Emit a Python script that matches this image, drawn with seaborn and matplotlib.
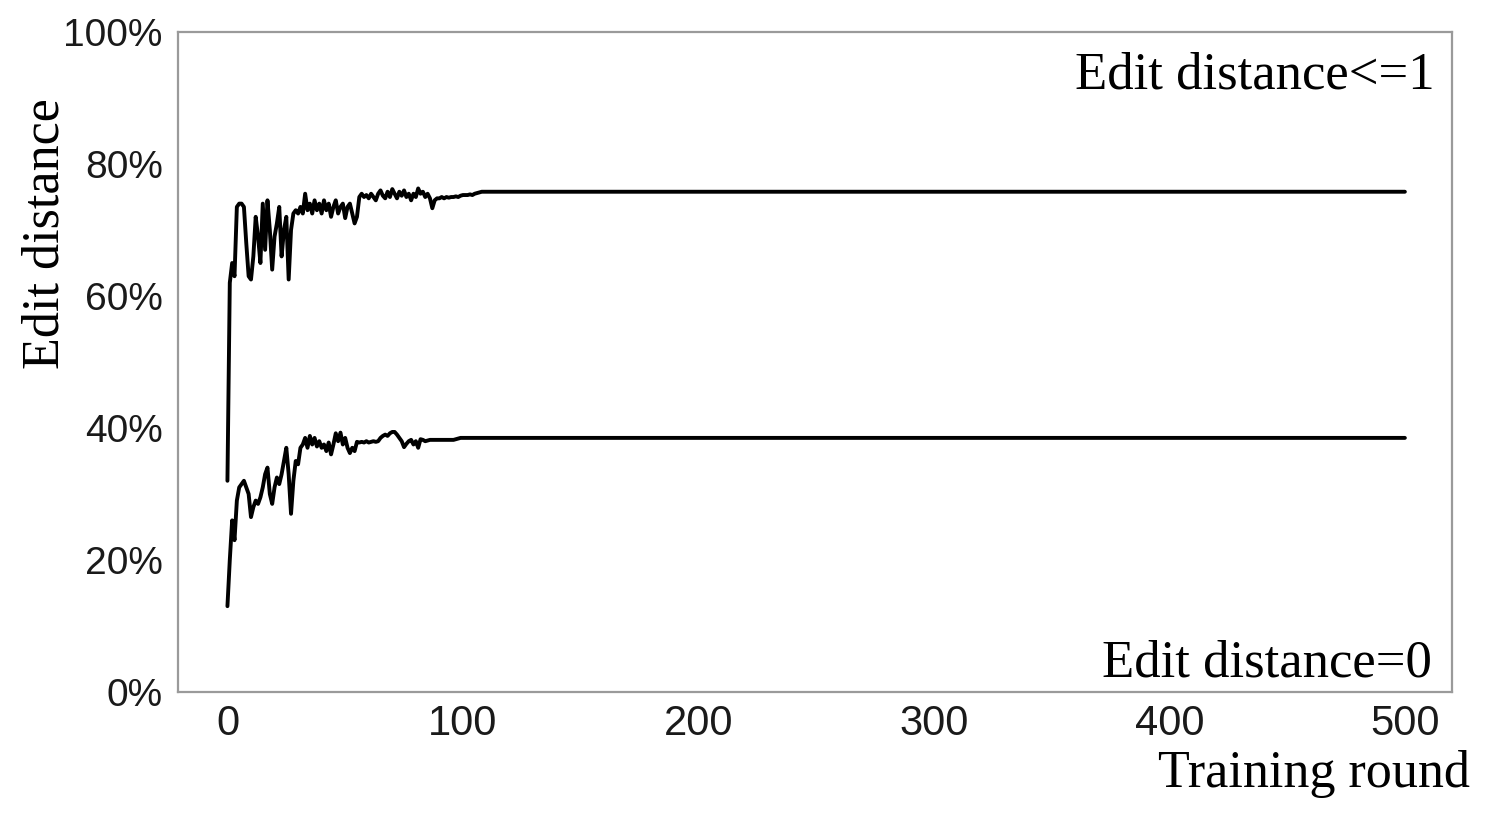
import matplotlib

matplotlib.use("Agg")
import matplotlib.pyplot as plt
import pandas as pd
import seaborn as sns
from matplotlib.ticker import PercentFormatter

# 训练轮次（前期波动段逐轮读取，后期平稳段只取端点）
rounds = list(range(0, 111)) + [500]

# Edit distance<=1 曲线（百分比）
upper_vals = [
    32, 62, 65, 63, 73.5, 74, 74, 73.5, 68, 63,
    62.5, 66, 72, 69, 65, 74, 67, 74.5, 70, 64,
    69, 71, 73.5, 66, 70, 72, 62.5, 70, 72.5, 73,
    72.5, 73.5, 72.5, 75.5, 73, 74, 72.5, 74.5, 73, 74,
    72.5, 74.5, 73, 74, 72, 73.5, 74.5, 72.5, 73.5, 74,
    71.8, 73.5, 74, 72.5, 71, 72, 75, 75.5, 75, 75.3,
    74.8, 75.5, 75, 74.5, 75.5, 76, 75.2, 74.8, 75.8, 75,
    76.2, 75.5, 74.8, 75.8, 75.2, 76, 75, 75.5, 74.5, 75.5,
    75, 76.3, 75.5, 75.8, 75, 75.5, 74.8, 73.3, 74.5, 74.8,
    74.8, 75, 74.8, 75, 74.9, 75, 75, 75.1, 75, 75.2,
    75.3, 75.3, 75.3, 75.4, 75.3, 75.5, 75.6, 75.7, 75.8, 75.8,
    75.8, 75.8,
]

# Edit distance=0 曲线（百分比）
lower_vals = [
    13, 20, 26, 23, 29, 31, 31.5, 32, 31, 30,
    26.5, 28, 29, 28.5, 29.5, 31, 33, 34, 30, 28.5,
    31, 32.5, 31.5, 33, 35, 37, 33, 27, 32, 35,
    34.5, 37, 37.5, 38.5, 37, 38.8, 37.5, 38.5, 37.2, 38,
    37, 37.5, 36.5, 37.8, 36, 37.5, 39.2, 38, 39.3, 37.5,
    38.5, 37, 36.2, 37, 36.5, 37.9, 37.8, 37.9, 37.8, 38,
    37.8, 37.9, 38, 37.9, 38, 38.5, 38.8, 39, 38.8, 39.2,
    39.4, 39.4, 39, 38.5, 38, 37.1, 37.6, 38, 38.2, 37.5,
    38, 37, 38.3, 38.2, 38, 38.1, 38.2, 38.2, 38.2, 38.2,
    38.2, 38.2, 38.2, 38.2, 38.2, 38.2, 38.2, 38.3, 38.4, 38.5,
    38.5, 38.5, 38.5, 38.5, 38.5, 38.5, 38.5, 38.5, 38.5, 38.5,
    38.5, 38.5,
]

x_ticks = [0, 100, 200, 300, 400, 500]
y_ticks = [0, 20, 40, 60, 80, 100]

df = pd.DataFrame(
    {
        "round": rounds * 2,
        "value": upper_vals + lower_vals,
        "series": ["Edit distance<=1"] * len(rounds) + ["Edit distance=0"] * len(rounds),
    }
)

sns.set_theme(style="white")
plt.rcParams["font.family"] = ["Liberation Sans Narrow", "Liberation Sans", "DejaVu Sans"]
plt.rcParams["font.stretch"] = "condensed"

fig = plt.figure(figsize=(15.02, 8.30), dpi=100)
ax = fig.add_axes([0.1185, 0.1663, 0.8482, 0.7951])

sns.lineplot(
    data=df,
    x="round",
    y="value",
    units="series",
    estimator=None,
    color="black",
    linewidth=2.8,
    ax=ax,
)

ax.set_xlim(-21, 520)
ax.set_ylim(0, 100)
ax.set_xticks(x_ticks)
ax.set_yticks(y_ticks)
ax.yaxis.set_major_formatter(PercentFormatter(decimals=0))

for side in ["left", "right", "top", "bottom"]:
    ax.spines[side].set_color("#9a9a9a")
    ax.spines[side].set_linewidth(1.6)

ax.tick_params(axis="both", length=4, width=1, color="#9a9a9a", labelcolor="#1a1a1a")
ax.tick_params(axis="x", labelsize=30, pad=5)
ax.tick_params(axis="y", labelsize=28, pad=7)

serif = ["Liberation Serif", "DejaVu Serif"]
ax.set_xlabel("Training round", fontsize=37.5, family=serif, color="black")
ax.xaxis.set_label_coords(0.892, -0.088)
ax.set_ylabel("Edit distance", fontsize=37.5, family=serif, color="black")
ax.yaxis.set_label_coords(-0.085, 0.695)

ax.text(0.9867, 0.915, "Edit distance<=1", transform=ax.transAxes,
        ha="right", va="baseline", fontsize=38, family=serif, color="black")
ax.text(0.9843, 0.0227, "Edit distance=0", transform=ax.transAxes,
        ha="right", va="baseline", fontsize=38, family=serif, color="black")

fig.savefig("out.png", dpi=100, facecolor="white")
plt.close(fig)
